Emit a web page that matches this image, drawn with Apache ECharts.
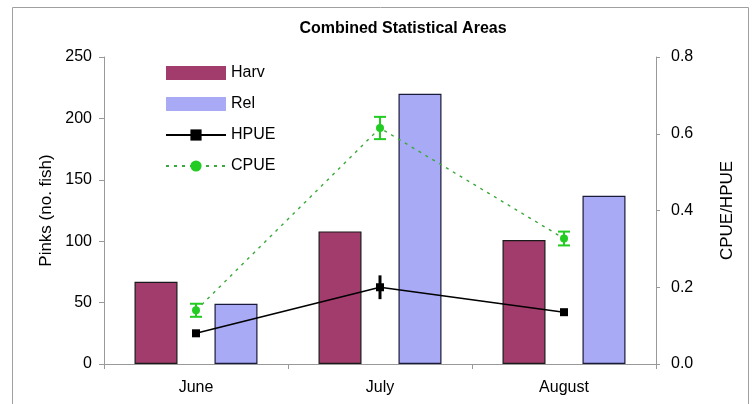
<!DOCTYPE html>
<html>
<head>
<meta charset="utf-8">
<script src="https://cdn.jsdelivr.net/npm/echarts@6/dist/echarts.min.js"></script>
<style>
  html, body { margin: 0; padding: 0; background: #fff; }
  #chart { width: 752px; height: 404px; }
</style>
</head>
<body>
<div id="chart"></div>
<script>
// 数据
var months = ['June', 'July', 'August'];
var harv = [67, 108, 101];
var rel = [49, 220, 137];
var hpue = [0.08, 0.20, 0.135];
var hpueErr = [0, 0.031, 0];
var cpue = [0.14, 0.615, 0.327];
var cpueErr = [0.017, 0.029, 0.018];
var leftTicks = [0, 50, 100, 150, 200, 250];
var rightTicks = [0.0, 0.2, 0.4, 0.6, 0.8];

var font = 'Liberation Sans, Arial, sans-serif';

/**
 * @desc 误差线
 */
function errBar(vals, errs, color, cap, width) {
    var rows = [];
    for (var i = 0; i < vals.length; i++) {
        rows.push([i, vals[i] - errs[i], vals[i] + errs[i]]);
    }
    return {
        type: 'custom',
        yAxisIndex: 1,
        z: 5,
        silent: true,
        data: rows,
        renderItem: function (params, api) {
            if (api.value(2) - api.value(1) <= 0) return null;
            var lo = api.coord([api.value(0), api.value(1)]);
            var hi = api.coord([api.value(0), api.value(2)]);
            var st = { stroke: color, lineWidth: width };
            var kids = [{ type: 'line', shape: { x1: lo[0], y1: lo[1], x2: hi[0], y2: hi[1] }, style: st }];
            if (cap > 0) {
                kids.push({ type: 'line', shape: { x1: lo[0] - cap, y1: lo[1], x2: lo[0] + cap, y2: lo[1] }, style: st });
                kids.push({ type: 'line', shape: { x1: hi[0] - cap, y1: hi[1], x2: hi[0] + cap, y2: hi[1] }, style: st });
            }
            return { type: 'group', children: kids };
        }
    };
}

var myChart = echarts.init(document.getElementById('chart'));

var option = {
    backgroundColor: '#fff',
    animation: false,
    textStyle: { fontFamily: font },
    title: {
        text: 'Combined Statistical Areas',
        left: 398,
        textAlign: 'center',
        top: 16,
        textStyle: { fontFamily: font, fontSize: 16, fontWeight: 'bold', color: '#000' }
    },
    graphic: [{
        type: 'rect',
        shape: { x: 12.5, y: 7.5, width: 736, height: 420 },
        style: { fill: null, stroke: '#a0a0a0', lineWidth: 1 },
        silent: true
    }],
    legend: {
        orient: 'vertical',
        left: 160,
        top: 60,
        itemWidth: 60,
        itemHeight: 14,
        itemGap: 15,
        textStyle: { fontFamily: font, fontSize: 16, color: '#000' },
        data: [
            { name: 'Harv', icon: 'rect', itemStyle: { borderWidth: 0 } },
            { name: 'Rel', icon: 'rect', itemStyle: { borderWidth: 0 } },
            'HPUE',
            'CPUE'
        ]
    },
    grid: { left: 104, right: 96, top: 57, bottom: 40 },
    xAxis: {
        type: 'category',
        data: months,
        boundaryGap: true,
        axisLine: { lineStyle: { color: '#999' } },
        axisTick: { show: true, length: 5, lineStyle: { color: '#999' } },
        axisLabel: { fontFamily: font, fontSize: 16, color: '#000', margin: 16 }
    },
    yAxis: [{
        type: 'value',
        min: 0,
        max: 250,
        interval: 50,
        name: 'Pinks (no. fish)',
        nameLocation: 'middle',
        nameRotate: 90,
        nameGap: 44,
        nameTextStyle: { fontFamily: font, fontSize: 17, color: '#000' },
        axisLine: { show: true, lineStyle: { color: '#999' } },
        axisTick: { show: true, length: 5, lineStyle: { color: '#999' } },
        splitLine: { show: false },
        axisLabel: {
            fontFamily: font, fontSize: 16, color: '#000', margin: 12,
            formatter: function (v) { return leftTicks.indexOf(v) >= 0 ? String(v) : ''; }
        }
    }, {
        type: 'value',
        min: 0,
        max: 0.8,
        interval: 0.2,
        name: 'CPUE/HPUE',
        nameLocation: 'middle',
        nameRotate: 90,
        nameGap: 63,
        nameTextStyle: { fontFamily: font, fontSize: 17, color: '#000' },
        axisLine: { show: true, lineStyle: { color: '#999' } },
        axisTick: { show: true, length: 4, lineStyle: { color: '#999' } },
        splitLine: { show: false },
        axisLabel: {
            fontFamily: font, fontSize: 16, color: '#000', margin: 15,
            formatter: function (v) { return v.toFixed(1); }
        }
    }],
    series: [{
        name: 'Harv',
        type: 'bar',
        barWidth: 43,
        barGap: '86%',
        itemStyle: { color: '#a23c6c', borderColor: '#1a1a1a', borderWidth: 1.2 },
        data: harv
    }, {
        name: 'Rel',
        type: 'bar',
        barWidth: 43,
        itemStyle: { color: '#a9aaf6', borderColor: '#1a1a3a', borderWidth: 1.2 },
        data: rel
    }, {
        name: 'HPUE',
        type: 'line',
        yAxisIndex: 1,
        z: 6,
        symbol: 'rect',
        symbolSize: 8,
        itemStyle: { color: '#000' },
        lineStyle: { color: '#000', width: 1.6 },
        data: hpue
    }, {
        name: 'CPUE',
        type: 'line',
        yAxisIndex: 1,
        z: 6,
        symbol: 'circle',
        symbolSize: 8,
        itemStyle: { color: '#22cc22' },
        lineStyle: { color: '#3aa83a', width: 1.4, type: [3, 5] },
        data: cpue
    },
    errBar(hpue, hpueErr, '#000', 0, 3),
    errBar(cpue, cpueErr, '#22cc22', 6, 2)]
};

myChart.setOption(option);
</script>
</body>
</html>
